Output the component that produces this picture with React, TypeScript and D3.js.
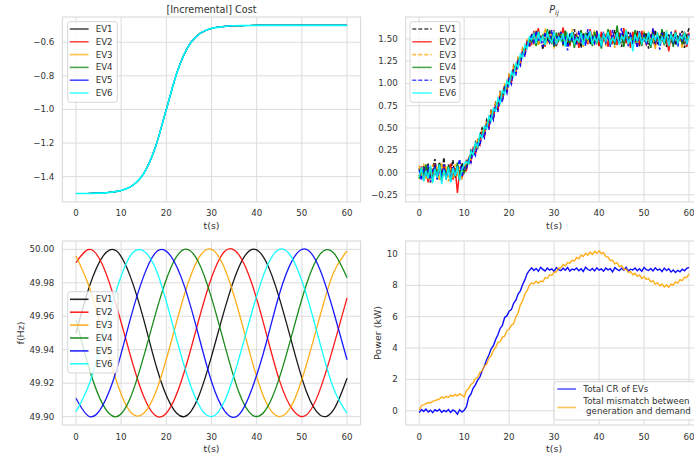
import * as d3 from "d3";

// ---------- data ----------
const evNames = ["EV1", "EV2", "EV3", "EV4", "EV5", "EV6"];
const evColors = ["black", "red", "orange", "green", "blue", "cyan"];
const pDashed = [true, false, true, false, true, false];

const xTicks = [0, 10, 20, 30, 40, 50, 60];

// [Incremental] Cost (all EVs overlap)
const tCost = [0, 2.5, 5, 7.5, 10, 12.5, 15, 17.5, 20, 22.5, 25, 27.5, 30, 32.5, 35, 37.5, 40, 42.5, 45, 47.5, 50, 52.5, 55, 57.5, 60];
const costEV = [-1.5, -1.5, -1.498, -1.493, -1.482, -1.453, -1.381, -1.231, -1.0, -0.769, -0.619, -0.547, -0.518, -0.507, -0.502, -0.501, -0.5, -0.5, -0.5, -0.5, -0.5, -0.5, -0.5, -0.5, -0.5];
const costTicks = [-1.4, -1.2, -1.0, -0.8, -0.6];

// P_ij, sampled every 0.5 s
const tHalf = d3.range(0, 60.5, 0.5);
const pEV1 = [
  0.05, -0.06, 0.08, -0.03, 0.1, -0.07, 0.04, 0.15, -0.05, 0.12,
  -0.02, 0.17, -0.08, 0.09, 0.02, 0.14, -0.06, 0.07, -0.04, 0.11, 0.01,
  0.13, 0.09, 0.25, 0.21, 0.34, 0.28, 0.42, 0.5, 0.45, 0.59,
  0.54, 0.71, 0.66, 0.78, 0.72, 0.9, 0.85, 0.98, 0.93, 1.09,
  1.04, 1.2, 1.15, 1.28, 1.23, 1.39, 1.36, 1.48, 1.45,
  1.56, 1.47, 1.58, 1.44, 1.53, 1.38, 1.55, 1.49, 1.6, 1.46,
  1.52, 1.41, 1.57, 1.5, 1.45, 1.59, 1.43, 1.54, 1.48, 1.61,
  1.46, 1.51, 1.4, 1.56, 1.49, 1.58, 1.44, 1.53, 1.47, 1.59,
  1.42, 1.55, 1.5, 1.46, 1.57, 1.43, 1.52, 1.6, 1.45, 1.54,
  1.41, 1.56, 1.48, 1.58, 1.44, 1.51, 1.47, 1.59, 1.42, 1.55,
  1.49, 1.57, 1.39, 1.53, 1.46, 1.6, 1.44, 1.52, 1.48, 1.58,
  1.41, 1.55, 1.47, 1.56, 1.43, 1.53, 1.5, 1.59, 1.4, 1.54,
  1.62,
];
const pEV2 = [
  -0.04, 0.07, -0.09, 0.03, -0.11, 0.06, -0.02, 0.09, -0.07, 0.04,
  -0.1, 0.08, -0.05, 0.02, 0.1, -0.08, 0.05, -0.23, 0.03, -0.06, 0.02,
  0.02, 0.16, 0.12, 0.27, 0.2, 0.36, 0.31, 0.46, 0.4, 0.56,
  0.51, 0.66, 0.61, 0.77, 0.7, 0.87, 0.82, 0.96, 0.91, 1.07,
  1.01, 1.17, 1.12, 1.26, 1.22, 1.37, 1.32, 1.47, 1.42,
  1.44, 1.59, 1.5, 1.62, 1.45, 1.55, 1.41, 1.58, 1.52, 1.47,
  1.6, 1.43, 1.54, 1.49, 1.63, 1.46, 1.51, 1.42, 1.57, 1.48,
  1.55, 1.4, 1.59, 1.47, 1.53, 1.44, 1.61, 1.5, 1.45, 1.56,
  1.42, 1.58, 1.48, 1.54, 1.41, 1.6, 1.46, 1.52, 1.43, 1.57,
  1.49, 1.62, 1.45, 1.53, 1.4, 1.58, 1.47, 1.55, 1.43, 1.59,
  1.51, 1.44, 1.57, 1.48, 1.61, 1.42, 1.54, 1.46, 1.59, 1.45,
  1.52, 1.36, 1.56, 1.49, 1.6, 1.43, 1.55, 1.47, 1.58, 1.41,
  1.57,
];
const pEV3 = [
  0.08, -0.05, 0.1, -0.08, 0.04, -0.12, 0.09, -0.03, 0.06, -0.09,
  0.11, -0.04, 0.07, -0.1, 0.05, -0.06, 0.09, -0.02, 0.06, -0.07, 0.04,
  0.1, 0.17, 0.15, 0.26, 0.24, 0.37, 0.34, 0.47, 0.44, 0.58,
  0.55, 0.69, 0.64, 0.79, 0.75, 0.89, 0.84, 0.99, 0.95, 1.1,
  1.05, 1.19, 1.14, 1.29, 1.25, 1.4, 1.35, 1.49, 1.46,
  1.52, 1.45, 1.6, 1.43, 1.55, 1.48, 1.62, 1.44, 1.51, 1.57,
  1.39, 1.54, 1.47, 1.59, 1.42, 1.56, 1.5, 1.46, 1.61, 1.43,
  1.53, 1.48, 1.58, 1.41, 1.55, 1.45, 1.57, 1.49, 1.6, 1.44,
  1.51, 1.47, 1.56, 1.42, 1.59, 1.46, 1.54, 1.4, 1.58, 1.48,
  1.53, 1.45, 1.61, 1.43, 1.55, 1.5, 1.57, 1.41, 1.52, 1.47,
  1.59, 1.44, 1.56, 1.48, 1.54, 1.38, 1.58, 1.46, 1.53, 1.49,
  1.6, 1.42, 1.55, 1.47, 1.57, 1.44, 1.52, 1.39, 1.56, 1.5,
  1.53,
];
const pEV4 = [
  -0.07, 0.04, -0.02, 0.09, -0.06, 0.05, -0.1, 0.07, -0.03, 0.1,
  -0.08, 0.03, -0.05, 0.08, -0.09, 0.06, -0.04, 0.11, -0.07, 0.05, 0.0,
  0.07, 0.14, 0.19, 0.22, 0.3, 0.32, 0.4, 0.42, 0.5, 0.52,
  0.6, 0.62, 0.7, 0.72, 0.8, 0.82, 0.9, 0.92, 1.0, 1.02,
  1.1, 1.12, 1.2, 1.22, 1.3, 1.32, 1.4, 1.42, 1.5,
  1.47, 1.56, 1.42, 1.58, 1.49, 1.54, 1.44, 1.61, 1.46, 1.52,
  1.41, 1.57, 1.48, 1.55, 1.43, 1.59, 1.5, 1.45, 1.56, 1.4,
  1.53, 1.47, 1.6, 1.44, 1.57, 1.49, 1.52, 1.42, 1.58, 1.46,
  1.54, 1.39, 1.56, 1.48, 1.61, 1.45, 1.52, 1.43, 1.65, 1.47,
  1.55, 1.41, 1.58, 1.49, 1.53, 1.44, 1.6, 1.46, 1.54, 1.42,
  1.57, 1.48, 1.52, 1.4, 1.59, 1.45, 1.55, 1.47, 1.61, 1.43,
  1.53, 1.49, 1.56, 1.41, 1.58, 1.46, 1.54, 1.44, 1.57, 1.48,
  1.52,
];
const pEV5 = [
  0.03, -0.09, 0.06, -0.04, 0.08, -0.11, 0.02, 0.07, -0.08, 0.05,
  -0.03, 0.09, -0.06, 0.04, -0.1, 0.07, -0.02, 0.05, 0.15, -0.05, 0.06,
  0.04, 0.15, 0.11, 0.25, 0.19, 0.35, 0.3, 0.44, 0.39, 0.55,
  0.48, 0.65, 0.59, 0.75, 0.68, 0.85, 0.79, 0.95, 0.89, 1.05,
  0.99, 1.16, 1.09, 1.25, 1.2, 1.36, 1.3, 1.46, 1.41,
  1.55, 1.44, 1.59, 1.47, 1.52, 1.41, 1.57, 1.5, 1.46, 1.6,
  1.43, 1.54, 1.48, 1.58, 1.45, 1.51, 1.37, 1.56, 1.49, 1.53,
  1.44, 1.59, 1.47, 1.55, 1.42, 1.61, 1.48, 1.52, 1.45, 1.57,
  1.5, 1.43, 1.58, 1.46, 1.54, 1.41, 1.6, 1.47, 1.53, 1.44,
  1.62, 1.49, 1.55, 1.42, 1.57, 1.46, 1.51, 1.4, 1.59, 1.48,
  1.54, 1.43, 1.56, 1.47, 1.62, 1.45, 1.52, 1.38, 1.57, 1.49,
  1.55, 1.44, 1.58, 1.46, 1.53, 1.41, 1.56, 1.48, 1.51, 1.45,
  1.55,
];
const pEV6 = [
  -0.05, 0.06, -0.1, 0.02, -0.07, 0.08, -0.12, 0.04, -0.06, 0.09,
  -0.13, 0.03, -0.08, 0.06, -0.11, 0.05, -0.04, 0.07, -0.09, 0.03, 0.1,
  0.12, 0.1, 0.24, 0.2, 0.33, 0.29, 0.43, 0.39, 0.52, 0.49,
  0.63, 0.58, 0.72, 0.69, 0.83, 0.78, 0.92, 0.88, 1.03, 0.98,
  1.13, 1.08, 1.22, 1.18, 1.33, 1.29, 1.43, 1.39, 1.52,
  1.49, 1.56, 1.45, 1.58, 1.47, 1.53, 1.43, 1.57, 1.5, 1.46,
  1.59, 1.44, 1.52, 1.48, 1.56, 1.41, 1.55, 1.49, 1.58, 1.45,
  1.51, 1.47, 1.57, 1.43, 1.54, 1.5, 1.59, 1.44, 1.52, 1.46,
  1.56, 1.42, 1.55, 1.48, 1.58, 1.45, 1.51, 1.47, 1.57, 1.43,
  1.53, 1.49, 1.6, 1.44, 1.52, 1.36, 1.55, 1.48, 1.57, 1.45,
  1.51, 1.47, 1.58, 1.43, 1.54, 1.49, 1.56, 1.44, 1.52, 1.46,
  1.59, 1.42, 1.55, 1.48, 1.57, 1.45, 1.53, 1.5, 1.56, 1.44,
  1.54,
];
const pTicks = [-0.25, 0, 0.25, 0.5, 0.75, 1.0, 1.25, 1.5];

// frequency, sampled every 3 s
const tFreq = [0, 3, 6, 9, 12, 15, 18, 21, 24, 27, 30, 33, 36, 39, 42, 45, 48, 51, 54, 57, 60];
const fEV1 = [49.95, 49.978, 49.996, 49.999, 49.984, 49.958, 49.928, 49.907, 49.9, 49.911, 49.936, 49.965, 49.989, 50.0, 49.993, 49.971, 49.942, 49.915, 49.901, 49.904, 49.923];
const fEV2 = [49.992, 50.0, 49.99, 49.966, 49.937, 49.912, 49.9, 49.906, 49.927, 49.956, 49.983, 49.999, 49.997, 49.979, 49.951, 49.922, 49.904, 49.901, 49.916, 49.942, 49.971];
const fEV3 = [49.996, 49.977, 49.949, 49.921, 49.903, 49.902, 49.917, 49.944, 49.973, 49.994, 50.0, 49.988, 49.963, 49.933, 49.909, 49.9, 49.908, 49.931, 49.96, 49.986, 49.999];
const fEV4 = [49.958, 49.928, 49.907, 49.9, 49.911, 49.936, 49.965, 49.989, 50.0, 49.993, 49.971, 49.942, 49.915, 49.901, 49.904, 49.923, 49.951, 49.979, 49.997, 49.998, 49.983];
const fEV5 = [49.911, 49.9, 49.907, 49.928, 49.958, 49.984, 49.999, 49.996, 49.978, 49.95, 49.921, 49.903, 49.901, 49.917, 49.943, 49.973, 49.994, 50.0, 49.988, 49.963, 49.934];
const fEV6 = [49.903, 49.92, 49.948, 49.976, 49.996, 49.999, 49.986, 49.959, 49.93, 49.908, 49.9, 49.91, 49.934, 49.963, 49.988, 50.0, 49.994, 49.973, 49.944, 49.917, 49.902];
const fTicks = [49.9, 49.92, 49.94, 49.96, 49.98, 50.0];

// power, sampled every 0.5 s
const totalCR = [
  -0.12, 0.08, -0.05, 0.1, -0.08, 0.04, -0.12, 0.06, -0.03, 0.09,
  -0.1, 0.02, -0.06, 0.08, -0.11, 0.05, -0.04, -0.22, 0.07, -0.09, 0.03,
  0.25, 0.85, 1.05, 1.45, 1.65, 1.95, 2.15, 2.55, 2.85, 3.25,
  3.55, 3.95, 4.15, 4.55, 4.85, 5.25, 5.45, 5.95, 6.05, 6.35,
  6.45, 6.85, 7.05, 7.45, 7.65, 8.05, 8.35, 8.75, 8.95,
  9.12, 8.95, 9.08, 8.9, 9.15, 9.02, 8.92, 9.1, 8.97, 9.05,
  8.88, 9.13, 9.0, 8.94, 9.09, 8.96, 9.14, 8.91, 9.04, 8.98,
  9.11, 8.93, 9.06, 8.89, 9.16, 9.01, 8.95, 9.08, 8.92, 9.12,
  8.97, 9.05, 8.9, 9.1, 8.99, 9.07, 8.86, 9.13, 9.02, 8.94,
  9.09, 8.96, 9.15, 8.91, 9.03, 8.98, 9.11, 8.93, 9.06, 8.9,
  9.14, 9.0, 8.95, 9.08, 8.92, 9.12, 8.97, 9.04, 8.88, 9.1,
  8.94, 9.06, 8.85, 8.98, 8.82, 8.96, 8.87, 9.03, 8.93, 9.08,
  9.15,
];
const mismatch = [
  0.05, 0.32, 0.38, 0.45, 0.52, 0.5, 0.6, 0.64, 0.7, 0.74,
  0.88, 0.8, 0.92, 0.86, 0.98, 0.93, 1.04, 0.95, 1.08, 1.0, 0.88,
  1.3, 1.42, 1.68, 1.78, 2.06, 2.12, 2.44, 2.55, 2.86, 2.96,
  3.36, 3.5, 3.86, 4.05, 4.35, 4.4, 4.7, 4.76, 5.1, 5.22,
  5.45, 5.56, 6.0, 6.25, 6.76, 7.02, 7.46, 7.66, 8.0,
  8.16, 8.1, 8.26, 8.13, 8.27, 8.23, 8.49, 8.45, 8.68, 8.64,
  8.86, 8.85, 9.12, 9.1, 9.33, 9.24, 9.46, 9.41, 9.61, 9.55,
  9.78, 9.7, 9.93, 9.84, 10.05, 9.92, 10.12, 9.98, 10.17, 10.04,
  10.2, 10.03, 10.09, 9.83, 9.8, 9.58, 9.62, 9.37, 9.45, 9.2,
  9.26, 9.0, 9.04, 8.83, 8.88, 8.68, 8.77, 8.57, 8.66, 8.44,
  8.55, 8.38, 8.45, 8.22, 8.3, 8.07, 8.17, 7.97, 8.08, 7.89,
  8.02, 7.88, 8.08, 8.02, 8.22, 8.14, 8.37, 8.3, 8.52, 8.5,
  8.74,
];
const powerTicks = [0, 2, 4, 6, 8, 10];

// ---------- drawing ----------
const FONT = "'DejaVu Sans', sans-serif";
const TEXT = "#333333";
const GRID = "#dcdcdc";

type Box = { left: number; right: number; top: number; bottom: number };
type Scale = d3.ScaleLinear<number, number>;

function Axes(props: {
  box: Box;
  x: Scale;
  y: Scale;
  yTicks: number[];
  yFmt: (v: number) => string;
  yLabel?: string;
  yLabelX?: number;
  children?: any;
}) {
  const { box, x, y } = props;
  return (
    <g>
      <rect x={box.left} y={box.top} width={box.right - box.left} height={box.bottom - box.top} fill="white" />
      {xTicks.map((t) => (
        <line key={"gx" + t} x1={x(t)} x2={x(t)} y1={box.top} y2={box.bottom} stroke={GRID} strokeWidth={1} />
      ))}
      {props.yTicks.map((v) => (
        <line key={"gy" + v} x1={box.left} x2={box.right} y1={y(v)} y2={y(v)} stroke={GRID} strokeWidth={1} />
      ))}
      {props.children}
      <rect
        x={box.left}
        y={box.top}
        width={box.right - box.left}
        height={box.bottom - box.top}
        fill="none"
        stroke={GRID}
        strokeWidth={1.2}
      />
      {xTicks.map((t) => (
        <text key={"tx" + t} x={x(t)} y={box.bottom + 14.5} textAnchor="middle" fontSize={8.7} fill={TEXT}>
          {t}
        </text>
      ))}
      {props.yTicks.map((v) => (
        <text key={"ty" + v} x={box.left - 8} y={y(v)} dy="0.35em" textAnchor="end" fontSize={8.7} fill={TEXT}>
          {props.yFmt(v)}
        </text>
      ))}
      <text x={(box.left + box.right) / 2} y={box.bottom + 27} textAnchor="middle" fontSize={9.5} fill={TEXT}>
        t(s)
      </text>
      {props.yLabel && (
        <text
          transform={`translate(${props.yLabelX},${(box.top + box.bottom) / 2}) rotate(-90)`}
          dy="0.35em"
          textAnchor="middle"
          fontSize={9.5}
          fill={TEXT}
        >
          {props.yLabel}
        </text>
      )}
    </g>
  );
}

type LegendItem = { label: string | string[]; color: string; dashed?: boolean; rowY: number };

function Legend(props: {
  x: number;
  y: number;
  w: number;
  h: number;
  lineX0: number;
  lineX1: number;
  textX: number;
  opacity: number;
  items: LegendItem[];
}) {
  return (
    <g>
      <rect x={props.x} y={props.y} width={props.w} height={props.h} rx={2.5} fill="white" fillOpacity={0.8} stroke="#d6d6d6" strokeWidth={1} />
      {props.items.map((it, i) => (
        <g key={i}>
          <line
            x1={props.lineX0}
            x2={props.lineX1}
            y1={it.rowY}
            y2={it.rowY}
            stroke={it.color}
            strokeOpacity={props.opacity}
            strokeWidth={1.6}
            strokeDasharray={it.dashed ? "4,2" : undefined}
          />
          {Array.isArray(it.label) ? (
            <text x={props.textX} y={it.rowY} fontSize={8.7} fill={TEXT}>
              <tspan x={props.textX} dy="-0.35em">{it.label[0]}</tspan>
              <tspan x={props.textX + 2.8} dy="1.15em">{it.label[1]}</tspan>
            </text>
          ) : (
            <text x={props.textX} y={it.rowY} dy="0.35em" fontSize={8.7} fill={TEXT}>
              {it.label}
            </text>
          )}
        </g>
      ))}
    </g>
  );
}

export default function App() {
  const tl: Box = { left: 62.4, right: 360.6, top: 17, bottom: 201.9 };
  const tr: Box = { left: 405.7, right: 702.5, top: 17, bottom: 201.9 };
  const bl: Box = { left: 62.4, right: 360.6, top: 241, bottom: 425 };
  const br: Box = { left: 405.7, right: 702.5, top: 241, bottom: 425 };

  const xTL = d3.scaleLinear().domain([-3, 63]).range([tl.left, tl.right]);
  const xTR = d3.scaleLinear().domain([-3, 63]).range([tr.left, tr.right]);
  const xBL = d3.scaleLinear().domain([-3, 63]).range([bl.left, bl.right]);
  const xBR = d3.scaleLinear().domain([-3, 63]).range([br.left, br.right]);

  const yTL = d3.scaleLinear().domain([-1.55, -0.45]).range([tl.bottom, tl.top]);
  const yTR = d3.scaleLinear().domain([-0.33, 1.746]).range([tr.bottom, tr.top]);
  const yBL = d3.scaleLinear().domain([49.895, 50.005]).range([bl.bottom, bl.top]);
  const yBR = d3.scaleLinear().domain([-0.91, 10.83]).range([br.bottom, br.top]);

  const costLine = d3
    .line<number>()
    .x((_, i) => xTL(tCost[i]))
    .y((d) => yTL(d))
    .curve(d3.curveMonotoneX);
  const pLine = d3
    .line<number>()
    .x((_, i) => xTR(tHalf[i]))
    .y((d) => yTR(d));
  const fLine = d3
    .line<number>()
    .x((_, i) => xBL(tFreq[i]))
    .y((d) => yBL(d))
    .curve(d3.curveNatural);
  const powLine = d3
    .line<number>()
    .x((_, i) => xBR(tHalf[i]))
    .y((d) => yBR(d));

  const pSeries = [pEV1, pEV2, pEV3, pEV4, pEV5, pEV6];
  const fSeries = [fEV1, fEV2, fEV3, fEV4, fEV5, fEV6];

  const rows = [29, 41.8, 54.6, 67.4, 80.2, 93];
  const rowsBL = [299.3, 312.2, 325.1, 338, 350.9, 363.8];

  return (
    <svg
      width={694}
      height={459}
      style={{ position: "absolute", left: 0, top: 0, display: "block", background: "white" }}
      fontFamily={FONT}
    >
      <rect width={694} height={459} fill="white" />

      {/* top left: incremental cost */}
      <Axes box={tl} x={xTL} y={yTL} yTicks={costTicks} yFmt={d3.format(".1f")}>
        {evNames.map((n, i) => (
          <path
            key={n}
            d={costLine(costEV) || ""}
            fill="none"
            stroke={evColors[i]}
            strokeWidth={i === 5 ? 1.7 : 1.1}
          />
        ))}
      </Axes>
      <text x={(tl.left + tl.right) / 2} y={12.5} textAnchor="middle" fontSize={9.7} fill={TEXT}>
        [Incremental] Cost
      </text>
      <Legend
        x={67.7}
        y={21.7}
        w={49.6}
        h={80.6}
        lineX0={69.8}
        lineX1={88.6}
        textX={95.7}
        opacity={0.7}
        items={evNames.map((n, i) => ({ label: n, color: evColors[i], rowY: rows[i] }))}
      />

      {/* top right: P_ij */}
      <Axes box={tr} x={xTR} y={yTR} yTicks={pTicks} yFmt={d3.format(".2f")}>
        {pSeries.map((s, i) => (
          <path
            key={i}
            d={pLine(s) || ""}
            fill="none"
            stroke={evColors[i]}
            strokeOpacity={0.9}
            strokeWidth={1.5}
            strokeDasharray={pDashed[i] ? "4,2" : undefined}
          />
        ))}
      </Axes>
      <text x={(tr.left + tr.right) / 2} y={12.5} textAnchor="middle" fontSize={9.7} fill={TEXT}>
        <tspan fontStyle="italic">P</tspan>
        <tspan fontStyle="italic" fontSize={7} dy={2.5}>ij</tspan>
      </text>
      <Legend
        x={410}
        y={21.7}
        w={50}
        h={80.6}
        lineX0={412.3}
        lineX1={431.7}
        textX={439.3}
        opacity={0.7}
        items={evNames.map((n, i) => ({ label: n, color: evColors[i], dashed: pDashed[i], rowY: rows[i] }))}
      />

      {/* bottom left: frequency */}
      <Axes box={bl} x={xBL} y={yBL} yTicks={fTicks} yFmt={d3.format(".2f")} yLabel="f(Hz)" yLabelX={21}>
        {fSeries.map((s, i) => (
          <path key={i} d={fLine(s) || ""} fill="none" stroke={evColors[i]} strokeOpacity={0.9} strokeWidth={1.3} />
        ))}
      </Axes>
      <Legend
        x={67.7}
        y={291.7}
        w={50.3}
        h={81.3}
        lineX0={70}
        lineX1={88.5}
        textX={95.7}
        opacity={0.85}
        items={evNames.map((n, i) => ({ label: n, color: evColors[i], rowY: rowsBL[i] }))}
      />

      {/* bottom right: power */}
      <Axes box={br} x={xBR} y={yBR} yTicks={powerTicks} yFmt={d3.format("d")} yLabel="Power (kW)" yLabelX={377.3}>
        <path d={powLine(totalCR) || ""} fill="none" stroke="blue" strokeOpacity={0.95} strokeWidth={1.4} />
        <path d={powLine(mismatch) || ""} fill="none" stroke="orange" strokeOpacity={0.9} strokeWidth={1.4} />
      </Axes>
      <Legend
        x={554}
        y={381.7}
        w={160}
        h={38.3}
        lineX0={557.3}
        lineX1={576}
        textX={583.3}
        opacity={0.65}
        items={[
          { label: "Total CR of EVs", color: "blue", rowY: 389 },
          { label: ["Total mismatch between", "generation and demand"], color: "orange", rowY: 407.5 },
        ]}
      />
    </svg>
  );
}
